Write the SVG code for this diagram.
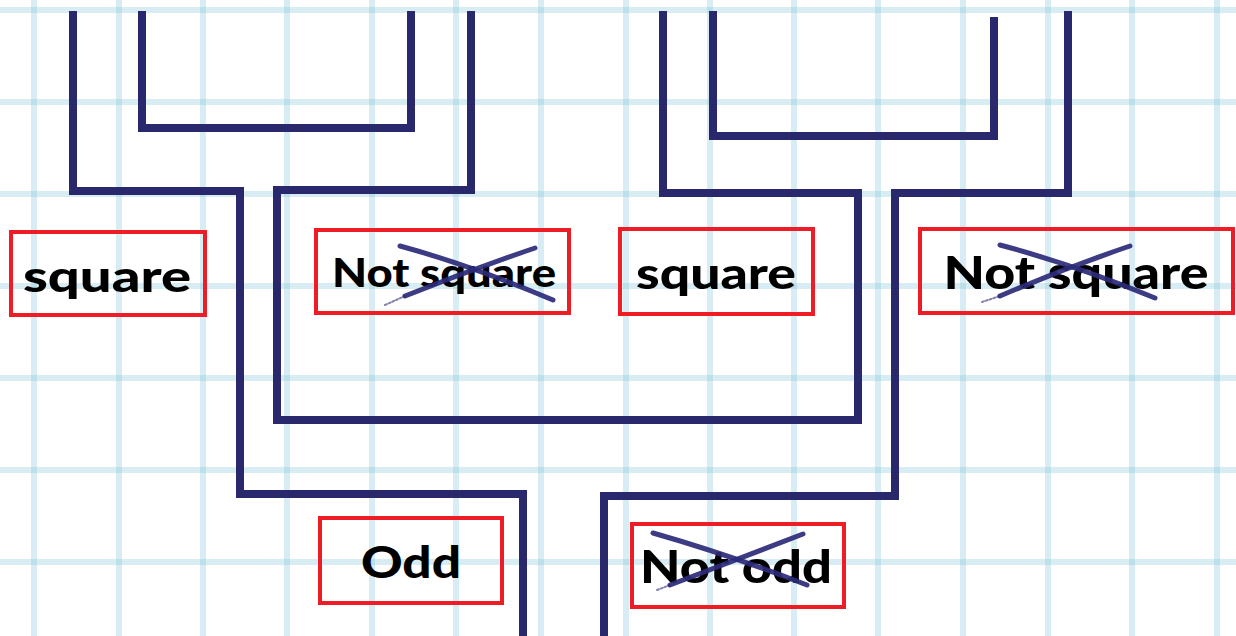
<svg xmlns="http://www.w3.org/2000/svg" width="1236" height="636" viewBox="0 0 1236 636">
<style>
.grid line{stroke:#7cc3d8;stroke-opacity:0.3;stroke-width:6}
.conn path{fill:none;stroke:#29286c;stroke-width:8;stroke-linejoin:miter;stroke-linecap:butt}
.box{fill:none;stroke:#ee1c25;stroke-width:4}
.lbl{font-family:"Lato","Open Sans","Liberation Sans",sans-serif;font-weight:900;fill:#000;text-anchor:middle}
.x{fill:none;stroke:#2b2a78;stroke-width:5;stroke-linecap:round;opacity:0.92}
.xt{fill:none;stroke:#2b2a78;stroke-width:2;stroke-dasharray:2 2;stroke-linecap:round;opacity:0.6}
</style>
<rect width="1236" height="636" fill="#ffffff"/>
<g class="grid">
<line x1="34" y1="0" x2="34" y2="636"/>
<line x1="119" y1="0" x2="119" y2="636"/>
<line x1="203" y1="0" x2="203" y2="636"/>
<line x1="287" y1="0" x2="287" y2="636"/>
<line x1="372" y1="0" x2="372" y2="636"/>
<line x1="456" y1="0" x2="456" y2="636"/>
<line x1="541" y1="0" x2="541" y2="636"/>
<line x1="626" y1="0" x2="626" y2="636"/>
<line x1="710" y1="0" x2="710" y2="636"/>
<line x1="794" y1="0" x2="794" y2="636"/>
<line x1="878" y1="0" x2="878" y2="636"/>
<line x1="963" y1="0" x2="963" y2="636"/>
<line x1="1048" y1="0" x2="1048" y2="636"/>
<line x1="1132" y1="0" x2="1132" y2="636"/>
<line x1="1217" y1="0" x2="1217" y2="636"/>
<line x1="0" y1="10" x2="1236" y2="10"/>
<line x1="0" y1="102" x2="1236" y2="102"/>
<line x1="0" y1="194" x2="1236" y2="194"/>
<line x1="0" y1="286" x2="1236" y2="286"/>
<line x1="0" y1="378" x2="1236" y2="378"/>
<line x1="0" y1="470" x2="1236" y2="470"/>
<line x1="0" y1="562" x2="1236" y2="562"/>
</g>
<g id="connectors" class="conn">
<path d="M73 11 V191 H240 V494 H523 V636"/>
<path d="M142 11 V128 H411 V11"/>
<path d="M471 11 V190 H277 V420 H858 V193 H663 V11"/>
<path d="M713 11 V136 H994 V17"/>
<path d="M1068 11 V193 H895 V496 H604 V636"/>
</g>
<g id="node-square-1">
<rect class="box" x="11" y="232" width="194" height="83"/>
<text class="lbl" x="107" y="292" font-size="44" textLength="168" lengthAdjust="spacingAndGlyphs">square</text>
</g>
<g id="node-not-square-1">
<rect class="box" x="316" y="230" width="253" height="83"/>
<text class="lbl" x="444" y="287" font-size="40" textLength="224" lengthAdjust="spacingAndGlyphs">Not square</text>
<path class="x" d="M400 246 Q470 265 553 300"/>
<path class="x" d="M405 296 Q470 270 535 248"/>
<path class="xt" d="M385 305 L405 296"/>
</g>
<g id="node-square-2">
<rect class="box" x="620" y="229" width="193" height="85"/>
<text class="lbl" x="716" y="289" font-size="44" textLength="160" lengthAdjust="spacingAndGlyphs">square</text>
</g>
<g id="node-not-square-2">
<rect class="box" x="920" y="229" width="313" height="84"/>
<text class="lbl" x="1076" y="289" font-size="46" textLength="265" lengthAdjust="spacingAndGlyphs">Not square</text>
<path class="x" d="M1000 245 Q1075 265 1155 298"/>
<path class="x" d="M1000 296 Q1065 268 1130 246"/>
<path class="xt" d="M982 302 L1000 296"/>
</g>
<g id="node-odd">
<rect class="box" x="320" y="518" width="182" height="85"/>
<text class="lbl" x="411" y="578" font-size="44" textLength="100" lengthAdjust="spacingAndGlyphs">Odd</text>
</g>
<g id="node-not-odd">
<rect class="box" x="632" y="524" width="212" height="83"/>
<text class="lbl" x="736" y="583" font-size="46" textLength="192" lengthAdjust="spacingAndGlyphs">Not odd</text>
<path class="x" d="M653 533 Q730 555 807 585"/>
<path class="x" d="M670 585 Q740 558 803 534"/>
<path class="xt" d="M657 590 L670 585"/>
</g>
</svg>
